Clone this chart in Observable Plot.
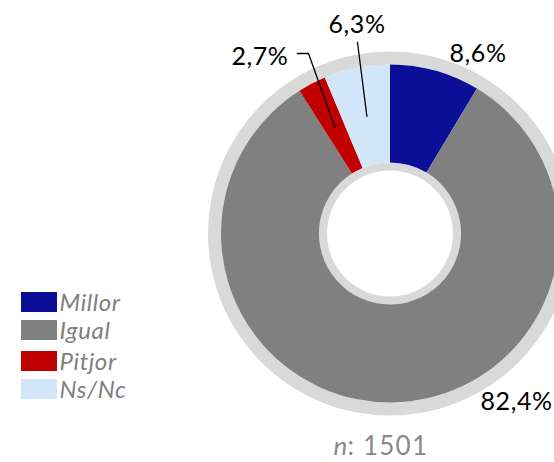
<!DOCTYPE html>
<html><head><meta charset="utf-8">
<script src="https://cdn.jsdelivr.net/npm/d3@7"></script>
<script src="https://cdn.jsdelivr.net/npm/@observablehq/plot@0.6"></script>
<style>html,body{margin:0;padding:0;background:#fff;} svg{display:block}
.wide text{letter-spacing:0.6px}
.wider text{letter-spacing:1.2px}
</style>
</head><body><div id="chart"></div>
<script>
// ---- data ----
const categories = ["Millor", "Igual", "Pitjor", "Ns/Nc"];
const values = [8.6, 82.4, 2.7, 6.3];
const valueLabels = ["8,6%", "82,4%", "2,7%", "6,3%"];
const colors = ["#0b0f97", "#808080", "#c00000", "#d1e6f9"];
const sampleSize = [1501];

// ---- layout ----
const W = 554, H = 462;
const cx = 390, cy = 233.5;
const rHole = 63, rInnerRing = 71, rOuter = 169, rRing = 182;
const font = "Lato, 'Open Sans', sans-serif";

const slices = d3.pie().sort(null).value(d => d.value)(
  categories.map((c, i) => ({category: c, value: values[i], label: valueLabels[i], color: colors[i]}))
);

const labelLayout = {
  "Millor": {x: 477.5, y: 53, anchor: "middle"},
  "Igual": {x: 480, y: 401, anchor: "start"},
  "Pitjor": {x: 288, y: 56, anchor: "end"},
  "Ns/Nc": {x: 356.5, y: 24, anchor: "middle"}
};
const leaderStart = {"Pitjor": [[297, 53], [308, 53]], "Ns/Nc": [[357, 42]]};
const leaderR = 120;

function midPoint(s, r) {
  const a = (s.startAngle + s.endAngle) / 2;
  return [cx + r * Math.sin(a), cy - r * Math.cos(a)];
}

const labelData = slices.map(s => ({...labelLayout[s.data.category], text: s.data.label}));
const leaderData = [];
slices.forEach(s => {
  const st = leaderStart[s.data.category];
  if (!st) return;
  const pts = [...st, midPoint(s, leaderR)];
  pts.forEach(p => leaderData.push({id: s.data.category, x: p[0], y: p[1]}));
});

const legendRows = [292, 320, 351, 379];
const legendData = categories.map((c, i) => ({category: c, color: colors[i], y: legendRows[i]}));

function donut(index, scales) {
  const g = d3.create("svg:g");
  const X = scales.x(cx), Y = scales.y(cy);
  const k = scales.x(1) - scales.x(0);
  const arc = d3.arc();
  const gg = g.append("g").attr("transform", `translate(${X},${Y})`);
  gg.append("path").attr("fill", "#d9d9d9")
    .attr("d", arc({innerRadius: rOuter * k, outerRadius: rRing * k, startAngle: 0, endAngle: 2 * Math.PI}));
  gg.append("path").attr("fill", "#d9d9d9")
    .attr("d", arc({innerRadius: rHole * k, outerRadius: rInnerRing * k, startAngle: 0, endAngle: 2 * Math.PI}));
  gg.selectAll("path.slice").data(slices).join("path")
    .attr("class", "slice")
    .attr("fill", d => d.data.color)
    .attr("d", d => arc({innerRadius: rInnerRing * k, outerRadius: rOuter * k, startAngle: d.startAngle, endAngle: d.endAngle}));
  return g.node();
}

const labelMark = anchor => Plot.text(labelData.filter(d => d.anchor === anchor), {
  x: "x", y: "y", text: "text", textAnchor: anchor, fontSize: 25, fontFamily: font, fill: "#000", className: "wide"
});

const chart = Plot.plot({
  width: W, height: H,
  margin: 0,
  style: {background: "white", overflow: "visible"},
  x: {domain: [0, W], range: [0, W], axis: null},
  y: {domain: [0, H], range: [0, H], axis: null},
  marks: [
    donut,
    Plot.line(leaderData, {x: "x", y: "y", z: "id", stroke: "#000", strokeWidth: 1.3}),
    labelMark("start"),
    labelMark("middle"),
    labelMark("end"),
    Plot.rect(legendData, {x1: 21, x2: 57, y1: "y", y2: d => d.y + 20, fill: "color"}),
    Plot.text(legendData, {x: 59, y: d => d.y + 11, text: "category", textAnchor: "start", fontSize: 24, fontStyle: "italic", fontFamily: font, fill: "#808080", className: "wide"}),
    Plot.text(sampleSize, {x: 333, y: 446, text: d => "n", textAnchor: "start", fontSize: 26, fontStyle: "italic", fontFamily: font, fill: "#8a8a8a"}),
    Plot.text(sampleSize, {x: 347, y: 446, text: d => ": " + d, textAnchor: "start", fontSize: 26, fontFamily: font, fill: "#8a8a8a", className: "wider"})
  ]
});
document.getElementById("chart").append(chart);
</script>
</body></html>
